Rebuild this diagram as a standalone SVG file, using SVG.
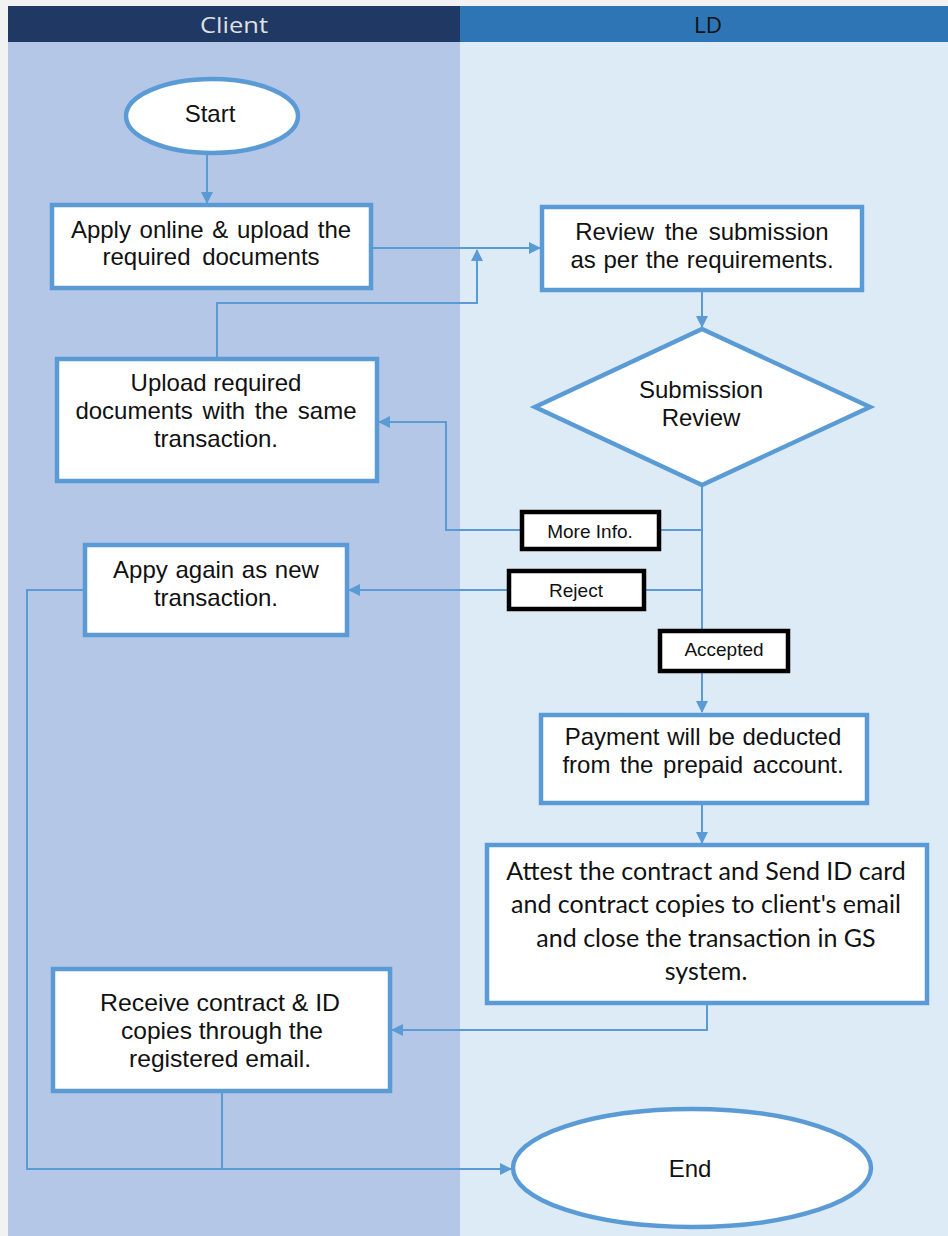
<svg xmlns="http://www.w3.org/2000/svg" width="948" height="1236" viewBox="0 0 948 1236">
<defs>
<style>
.node{fill:#fff;stroke:#5B9BD5;stroke-width:4.5}
.lbl{fill:#fff;stroke:#000;stroke-width:4.5}
.t{font-family:"Liberation Sans",Arial,sans-serif;font-size:24px;fill:#111;text-anchor:middle}
.tn{font-family:"Liberation Sans",Arial,sans-serif;font-size:24px;fill:#111;text-anchor:middle}
.tc{font-family:Lato,"Open Sans",sans-serif;font-size:25px;fill:#111;text-anchor:middle}
.tl{font-family:"Liberation Sans",Arial,sans-serif;font-size:19px;fill:#111;text-anchor:middle}
.c{fill:none;stroke:#5B9BD5;stroke-width:2}
.h{font-family:"Open Sans","Liberation Sans",sans-serif;font-size:21px;text-anchor:middle}
</style>
<marker id="ah" viewBox="0 0 12 12" refX="11" refY="6" markerWidth="12" markerHeight="12" markerUnits="userSpaceOnUse" orient="auto">
<path d="M0,0 L12,6 L0,12 Z" fill="#5B9BD5"/>
</marker>
</defs>
<rect x="0" y="0" width="948" height="1236" fill="#F2F2F2"/>
<g id="lanes">
<rect x="8" y="6" width="452" height="36" fill="#1F3864"/>
<rect x="460" y="6" width="488" height="36" fill="#2E75B6"/>
<rect x="8" y="42" width="452" height="1194" fill="#B4C7E7"/>
<rect x="460" y="42" width="488" height="1194" fill="#DDEBF7"/>
<text class="h" x="234" y="33" fill="#E0E0E0" textLength="68" lengthAdjust="spacingAndGlyphs">Client</text>
<text class="h" x="708" y="33" fill="#111" textLength="28" lengthAdjust="spacingAndGlyphs">LD</text>
</g>
<g id="connectors">
<path class="c" d="M207,155 V203" marker-end="url(#ah)"/>
<path class="c" d="M373,248 H540" marker-end="url(#ah)"/>
<path class="c" d="M217,357 V303 H477 V250" marker-end="url(#ah)"/>
<path class="c" d="M702,292 V327" marker-end="url(#ah)"/>
<path class="c" d="M702,487 V712" marker-end="url(#ah)"/>
<path class="c" d="M702,530 H446 V422 H379" marker-end="url(#ah)"/>
<path class="c" d="M702,590 H349" marker-end="url(#ah)"/>
<path class="c" d="M702,805 V843" marker-end="url(#ah)"/>
<path class="c" d="M707,1005 V1030 H392" marker-end="url(#ah)"/>
<path class="c" d="M83,590 H27 V1169 H511" marker-end="url(#ah)"/>
<path class="c" d="M222,1093 V1169"/>
</g>
<g id="start">
<ellipse class="node" cx="212" cy="116" rx="86" ry="37"/>
<text class="t" x="210" y="122">Start</text>
</g>
<g id="apply">
<rect class="node" x="52" y="205" width="319" height="83"/>
<text class="t" x="211" y="238" word-spacing="2">Apply online &amp; upload the</text>
<text class="t" x="211" y="265" word-spacing="5">required documents</text>
</g>
<g id="review">
<rect class="node" x="542" y="207" width="320" height="83"/>
<text class="t" x="702" y="240" word-spacing="4">Review the submission</text>
<text class="t" x="702" y="268" word-spacing="1">as per the requirements.</text>
</g>
<g id="decision">
<polygon class="node" points="702,329 870,407 702,485 535,407"/>
<text class="t" x="701" y="398">Submission</text>
<text class="t" x="701" y="426">Review</text>
</g>
<g id="upload">
<rect class="node" x="57" y="359" width="320" height="122"/>
<text class="t" x="216" y="391">Upload required</text>
<text class="t" x="216" y="419" word-spacing="3">documents with the same</text>
<text class="t" x="216" y="447">transaction.</text>
</g>
<g id="label-moreinfo">
<rect class="lbl" x="522" y="512" width="137" height="37"/>
<text class="tl" x="590" y="538">More Info.</text>
</g>
<g id="label-reject">
<rect class="lbl" x="509" y="571" width="135" height="38"/>
<text class="tl" x="576" y="597">Reject</text>
</g>
<g id="label-accepted">
<rect class="lbl" x="660" y="631" width="128" height="40"/>
<text class="tl" x="724" y="656">Accepted</text>
</g>
<g id="appy">
<rect class="node" x="85" y="545" width="262" height="90"/>
<text class="t" x="216" y="578" word-spacing="1">Appy again as new</text>
<text class="t" x="216" y="606">transaction.</text>
</g>
<g id="payment">
<rect class="node" x="541" y="715" width="326" height="88"/>
<text class="t" x="703" y="745" word-spacing="1">Payment will be deducted</text>
<text class="t" x="703" y="773" word-spacing="3">from the prepaid account.</text>
</g>
<g id="attest">
<rect class="node" x="487" y="845" width="440" height="158"/>
<text class="tc" x="706" y="880">Attest the contract and Send ID card</text>
<text class="tc" x="706" y="913">and contract copies to client's email</text>
<text class="tc" x="706" y="947">and close the transaction in GS</text>
<text class="tc" x="706" y="980">system.</text>
</g>
<g id="receive">
<rect class="node" x="53" y="969" width="337" height="122"/>
<text class="tn" x="220" y="1011" textLength="240" lengthAdjust="spacingAndGlyphs">Receive contract &amp; ID</text>
<text class="tn" x="222" y="1039" textLength="202" lengthAdjust="spacingAndGlyphs">copies through the</text>
<text class="tn" x="220" y="1067" textLength="182" lengthAdjust="spacingAndGlyphs">registered email.</text>
</g>
<g id="end">
<ellipse class="node" cx="692" cy="1168" rx="179" ry="59"/>
<text class="t" x="690" y="1177">End</text>
</g>
</svg>
